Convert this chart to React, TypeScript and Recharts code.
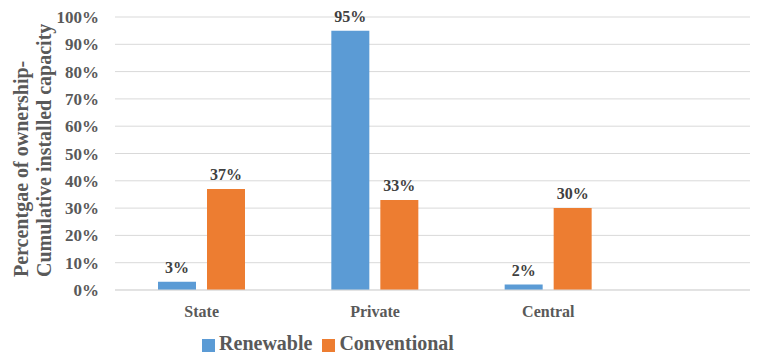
import { BarChart, Bar, XAxis, YAxis, CartesianGrid, Legend, LabelList, Label } from 'recharts'

const categories = ['State', 'Private', 'Central']
const renewable = [3, 95, 2]
const conventional = [37, 33, 30]
const yTicks = [0, 10, 20, 30, 40, 50, 60, 70, 80, 90, 100]

const data = categories.map((c, i) => ({
  name: c,
  Renewable: renewable[i],
  Conventional: conventional[i]
}))

const font = '"Times New Roman", "Liberation Serif", "DejaVu Serif", serif'
const seriesOrder: Record<string, number> = { Renewable: 0, Conventional: 1 }

function YTitle() {
  const bottom = 277
  return (
    <g style={{ fontFamily: font, fontWeight: 'bold', fontSize: 20 }}>
      <text x={21} y={bottom} transform={`rotate(-90, 21, ${bottom})`} textAnchor="start" dominantBaseline="central" fill="#595959">
        Percentgae of ownership-
      </text>
      <text x={44} y={bottom} transform={`rotate(-90, 44, ${bottom})`} textAnchor="start" dominantBaseline="central" fill="#595959">
        Cumulative installed capacity
      </text>
    </g>
  )
}

export default function App() {
  return (
    <div style={{ position: 'absolute', left: 0, top: 0, fontFamily: font }}>
      <BarChart width={758} height={359} data={data}
        margin={{ top: 17, right: 8, bottom: 0, left: 0 }}
        barGap={11} barCategoryGap={43}
        style={{ fontFamily: font }}>
        <CartesianGrid vertical={false} stroke="#d9d9d9" />
        <XAxis dataKey="name" padding={{ left: 0, right: 115 }} axisLine={{ stroke: '#d9d9d9' }} tickLine={false}
          tick={{ fontWeight: 'bold', fontSize: 16, fill: '#595959', style: { fontFamily: font } }}
          tickMargin={10} height={32} />
        <YAxis width={115} domain={[0, 100]} ticks={yTicks} tickFormatter={(v: number) => `${v}%`}
          axisLine={false} tickLine={false} interval={0}
          tick={{ fontWeight: 'bold', fontSize: 17, fill: '#595959', style: { fontFamily: font } }}
          tickMargin={10}>
          <Label content={<YTitle />} />
        </YAxis>
        <Legend verticalAlign="bottom" iconType="square" iconSize={13} height={35}
          itemSorter={(item: any) => seriesOrder[item.value] ?? 0}
          wrapperStyle={{ fontFamily: font, fontWeight: 'bold', fontSize: 20, color: '#595959', paddingTop: 2, bottom: -8, left: -42 }}
          formatter={(v: string) => <span style={{ color: '#595959', fontFamily: font }}>{v}</span>} />
        <Bar dataKey="Renewable" fill="#5B9BD5" isAnimationActive={false}>
          <LabelList dataKey="Renewable" position="top" offset={9} formatter={(v: any) => `${v}%`}
            style={{ fontFamily: font, fontWeight: 'bold', fontSize: 16, fill: '#404040' }} />
        </Bar>
        <Bar dataKey="Conventional" fill="#ED7D31" isAnimationActive={false}>
          <LabelList dataKey="Conventional" position="top" offset={9} formatter={(v: any) => `${v}%`}
            style={{ fontFamily: font, fontWeight: 'bold', fontSize: 16, fill: '#404040' }} />
        </Bar>
      </BarChart>
    </div>
  )
}
